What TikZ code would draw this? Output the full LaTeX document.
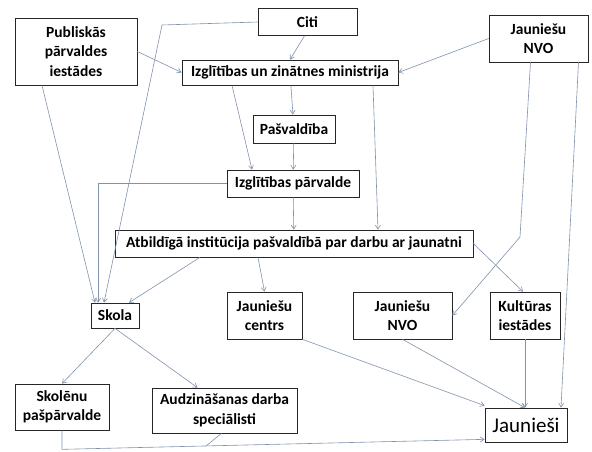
\documentclass[tikz,border=0pt]{standalone}
\usepackage{fontspec}
\setmainfont{Carlito}
\usetikzlibrary{arrows.meta,shadows}
\definecolor{linkgray}{RGB}{128,146,172}

\begin{document}
\begin{tikzpicture}[x=1pt,y=-1pt,>={Straight Barb[length=4pt,width=5pt]}]
    \tikzstyle{box}=[draw=black!85,fill=white,line width=0.7pt,align=center,inner sep=0pt,
        font=\fontsize{15.5}{19.5}\selectfont\bfseries,
        drop shadow={shadow xshift=0.8pt,shadow yshift=-0.8pt,opacity=0.35}]
    \tikzstyle{link}=[linkgray,line width=0.6pt,->]
    \useasboundingbox (0,0) rectangle (592,452);

    % top row
    \node[box,minimum width=122pt,minimum height=67pt] (pub) at (76,51.5) {Publiskās\\pārvaldes\\iestādes};
    \node[box,minimum width=99pt,minimum height=27pt] (citi) at (307.5,22) {Citi};
    \node[box,minimum width=99pt,minimum height=47pt] (nvoA) at (538.5,38.5) {Jauniešu\\NVO};
    \node[box,minimum width=216pt,minimum height=25pt] (min) at (290,72.5) {Izglītības un zinātnes ministrija};
    \node[box,minimum width=82pt,minimum height=28pt] (pasv) at (294,129) {Pašvaldība};
    \node[box,minimum width=132pt,minimum height=27pt] (izgp) at (293,183.5) {Izglītības pārvalde};
    \node[box,minimum width=358pt,minimum height=27pt] (atb) at (294,243.5) {Atbildīgā institūcija pašvaldībā par darbu ar jaunatni};

    % middle row
    \node[box,minimum width=48pt,minimum height=25pt] (skola) at (115,315.5) {Skola};
    \node[box,minimum width=75pt,minimum height=47pt] (jcen) at (264.5,315.5) {Jauniešu\\centrs};
    \node[box,minimum width=99pt,minimum height=47pt] (nvoB) at (402.5,315.5) {Jauniešu\\NVO};
    \node[box,minimum width=70pt,minimum height=47pt] (kult) at (525,315.5) {Kultūras\\iestādes};

    % bottom row
    \node[box,minimum width=94pt,minimum height=46pt] (skp) at (62,407) {Skolēnu\\pašpārvalde};
    \node[box,minimum width=145pt,minimum height=45pt] (audz) at (224.5,410.5) {Audzināšanas darba\\speciālisti};
    \node[box,minimum width=82pt,minimum height=34pt,font=\fontsize{21}{24}\selectfont] (jaun) at (526,425) {Jaunieši};

    \coordinate (bend) at (520,237);
    \coordinate (corner) at (162,25);
    \coordinate (join) at (206,446);

    \foreach \from/\to in {min/pasv, pasv/izgp, izgp/atb}
        \draw[link] (\from) -- (\to);

    \draw[link] (pub.east) -- (min.west);
    \draw[link] (nvoA.west) -- (min.east);
    \draw[link] ([xshift=-3pt]citi.south) -- (min.north);
    \draw[link] (citi.west) -- (corner) -- ([xshift=-11pt]skola.north);
    \draw[link] ([xshift=-34pt]pub.south) -- ([xshift=-20pt]skola.north);
    \draw[link] (izgp.west) -| ([xshift=-17pt]skola.north);
    \draw[link] ([xshift=-58pt]min.south) -- ([xshift=-41pt]izgp.north);
    \draw[link] ([xshift=83pt]min.south) -- ([xshift=84pt]atb.north);
    \draw[link] ([xshift=-94pt]atb.south) -- ([xshift=14pt]skola.north);
    \draw[link] ([xshift=-36pt]atb.south) -- (jcen.north);
    \draw[link] (atb.east) -- ([xshift=-2pt]kult.north);
    \draw[link] ([xshift=-8pt]nvoA.south) -- (bend) -- (nvoB.east);
    \draw[link] ([xshift=40pt]nvoA.south) -- ([xshift=35pt]jaun.north);
    \draw[link] (jcen.south east) -- ([yshift=2pt]jaun.north west);
    \draw[link] (nvoB.south) -- ([xshift=-1pt]jaun.north);
    \draw[link] (kult.south) -- (kult.south |- jaun.north);
    \draw[link] (skola.south) -- (skp.north);
    \draw[link] (skola.south) -- ([xshift=-27pt]audz.north);
    \draw[link] (skp.south) -- ++(0,19) -- ([yshift=3pt]jaun.south west);
    \draw[linkgray,line width=0.6pt] ([xshift=-3pt]audz.south) -- (join);
\end{tikzpicture}
\end{document}
